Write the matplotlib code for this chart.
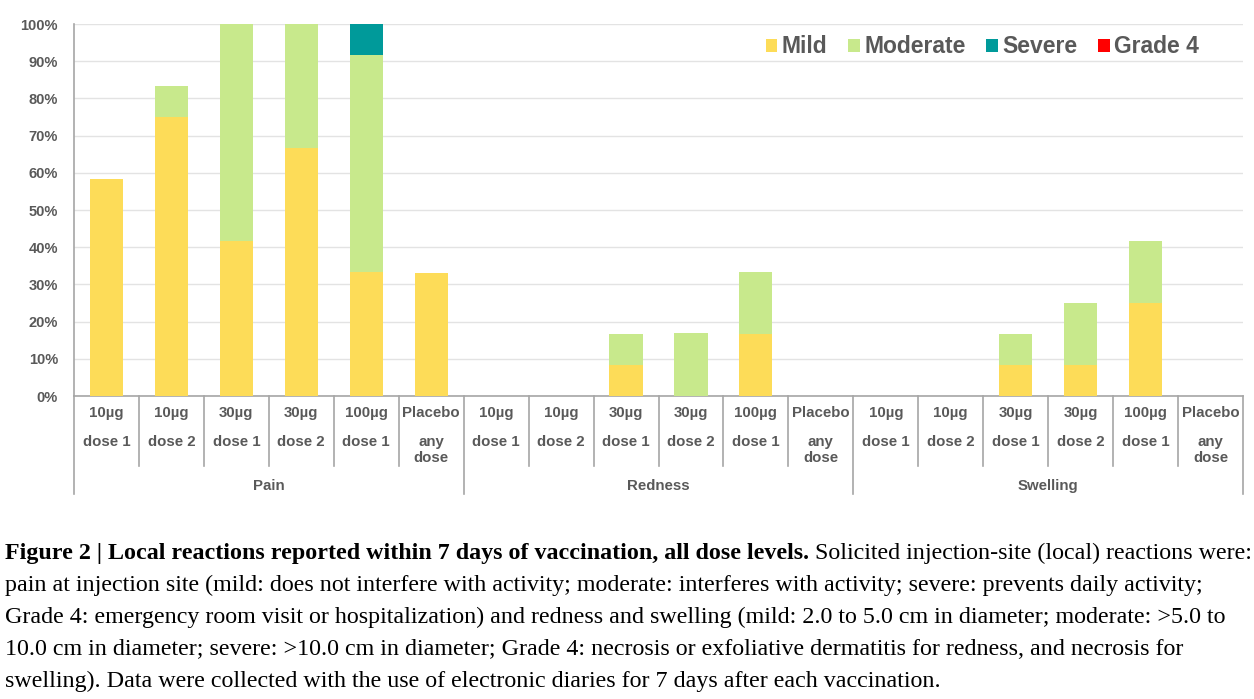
import numpy as np
import matplotlib
matplotlib.use("Agg")
import matplotlib.pyplot as plt
from matplotlib.patches import Patch
from matplotlib.ticker import FuncFormatter, MultipleLocator

# data (percent of participants)
groups = ['Pain', 'Redness', 'Swelling']
dose_top = ['10µg', '10µg', '30µg', '30µg', '100µg', 'Placebo']
dose_bottom = ['dose 1', 'dose 2', 'dose 1', 'dose 2', 'dose 1', 'any\ndose']

mild = [58.3, 75.0, 41.7, 66.7, 33.3, 33.0,
        0, 0, 8.3, 0, 16.7, 0,
        0, 0, 8.3, 8.3, 25.0, 0]
moderate = [0, 8.3, 58.3, 33.3, 58.4, 0,
            0, 0, 8.4, 16.9, 16.6, 0,
            0, 0, 8.4, 16.7, 16.7, 0]
severe = [0, 0, 0, 0, 8.3, 0,
          0, 0, 0, 0, 0, 0,
          0, 0, 0, 0, 0, 0]
grade4 = [0] * 18

series_names = ['Mild', 'Moderate', 'Severe', 'Grade 4']
colors = ['#FDDC58', '#C8E98C', '#009A9A', '#FF0000']
text_gray = '#595959'
lab_size = 10.8

plt.rcParams['font.family'] = ['Liberation Sans', 'DejaVu Sans']

fig = plt.figure(figsize=(12.54, 6.99), dpi=100)
ax = fig.add_axes([74 / 1254, 1 - 396 / 699, (1243 - 74) / 1254, 372 / 699])

x = np.arange(len(mild))
bottom = np.zeros(len(mild))
for vals, c in zip([mild, moderate, severe, grade4], colors):
    ax.bar(x, vals, 0.51, bottom=bottom, color=c, zorder=3)
    bottom += np.array(vals)

ax.set_xlim(-0.5, len(mild) - 0.5)
ax.set_ylim(0, 100)
ax.yaxis.set_major_locator(MultipleLocator(10))
ax.yaxis.set_major_formatter(FuncFormatter(lambda v, p: '%d%%' % v))
ax.grid(axis='y', color='#e3e3e3', linewidth=1, zorder=0)
ax.set_xticks([])
ax.tick_params(axis='y', length=0, pad=11.5, labelsize=10.5, labelcolor=text_gray)
for lab in ax.get_yticklabels():
    lab.set_fontweight('bold')
for s in ['top', 'right']:
    ax.spines[s].set_visible(False)
for s in ['left', 'bottom']:
    ax.spines[s].set_color('#a6a6a6')
    ax.spines[s].set_linewidth(1.2)

# two-level category axis below the plot
tr = ax.get_xaxis_transform()
n = len(dose_top)
for i in range(len(mild)):
    ax.text(i, -0.046, dose_top[i % n], transform=tr, ha='center', va='center',
            fontsize=lab_size, fontweight='bold', color=text_gray)
    ax.text(i, -0.105, dose_bottom[i % n], transform=tr, ha='center', va='top',
            fontsize=lab_size, fontweight='bold', color=text_gray, linespacing=1.15)
for i in range(len(mild) + 1):
    edge = i - 0.5
    low = -0.263 if i % n == 0 else -0.188
    ax.plot([edge, edge], [0, low], transform=tr, color='#a6a6a6', lw=1.2, clip_on=False)
for g, name in enumerate(groups):
    ax.text(g * n + (n - 1) / 2, -0.242, name, transform=tr, ha='center', va='center',
            fontsize=lab_size, fontweight='bold', color=text_gray)

handles = [Patch(facecolor=c, label=s) for s, c in zip(series_names, colors)]
leg = ax.legend(handles=handles, loc='upper right', ncol=4, frameon=False,
                bbox_to_anchor=(0.98, 1.025), handlelength=0.5, handleheight=0.5,
                handletextpad=0.2, columnspacing=0.9,
                prop={'weight': 'bold', 'size': 16.5})
for t in leg.get_texts():
    t.set_color(text_gray)

# caption
serif = ['Liberation Serif', 'DejaVu Serif']
cap_size = 17.3
bold_part = 'Figure 2 | Local reactions reported within 7 days of vaccination, all dose levels.'
rest_1 = ' Solicited injection-site (local) reactions were:'
other_lines = [
    'pain at injection site (mild: does not interfere with activity; moderate: interferes with activity; severe: prevents daily activity;',
    'Grade 4: emergency room visit or hospitalization) and redness and swelling (mild: 2.0 to 5.0 cm in diameter; moderate: >5.0 to',
    '10.0 cm in diameter; severe: >10.0 cm in diameter; Grade 4: necrosis or exfoliative dermatitis for redness, and necrosis for',
    'swelling). Data were collected with the use of electronic diaries for 7 days after each vaccination.',
]
x0 = 5 / 1254
t1 = fig.text(x0, 1 - 559 / 699, bold_part, family=serif, fontsize=cap_size,
              fontweight='bold', va='baseline')
fig.canvas.draw()
bb = t1.get_window_extent(fig.canvas.get_renderer())
fig.text(bb.x1 / fig.bbox.width, 1 - 559 / 699, rest_1, family=serif,
         fontsize=cap_size, va='baseline')
for k, line in enumerate(other_lines):
    fig.text(x0, 1 - (559 + 32 * (k + 1)) / 699, line, family=serif,
             fontsize=cap_size, va='baseline')

fig.savefig('out.png', dpi=100)
